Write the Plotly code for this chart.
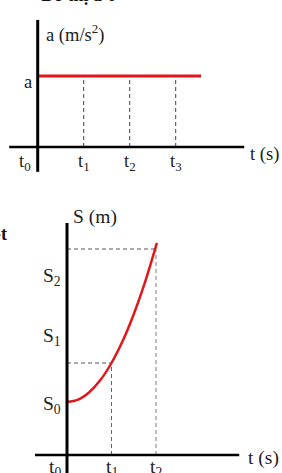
import plotly.graph_objects as go

# ---- data: a-t chart ----
at_ticks_t = [0, 1, 2, 3]
at_tick_labels = ["t<sub>0</sub>", "t<sub>1</sub>", "t<sub>2</sub>", "t<sub>3</sub>"]
a_value = 1.0
a_line_t = [0, 3.55]

# ---- data: S-t chart ----
st_ticks_t = [0, 1, 2]
st_tick_labels = ["t<sub>0</sub>", "t<sub>1</sub>", "t<sub>2</sub>"]
s_tick_vals = [5.0, 11.8, 17.8]
s_tick_labels = ["S<sub>0</sub>", "S<sub>1</sub>", "S<sub>2</sub>"]
curve_t = [0, 0.25, 0.5, 0.75, 1.0, 1.25, 1.5, 1.75, 2.02]
curve_s = [5.30, 5.54, 6.28, 7.49, 9.20, 11.39, 14.08, 17.24, 21.21]
s_at_t1 = 9.2
s_at_t2 = 20.6

RED = "#e3161b"
FONT = "Liberation Serif"
TXT = "#222222"

fig = go.Figure()

# top chart: a-t
fig.add_trace(go.Scatter(x=a_line_t, y=[a_value, a_value], mode="lines",
                         line=dict(color=RED, width=3), xaxis="x", yaxis="y",
                         hoverinfo="skip"))
for tv in at_ticks_t[1:]:
    fig.add_trace(go.Scatter(x=[tv, tv], y=[0, a_value], mode="lines",
                             line=dict(color="#444", width=1, dash="4px,3px"),
                             xaxis="x", yaxis="y", hoverinfo="skip"))

# bottom chart: S-t
fig.add_trace(go.Scatter(x=[0, st_ticks_t[1]], y=[s_at_t1, s_at_t1], mode="lines",
                         line=dict(color="#555", width=1, dash="4px,3px"),
                         xaxis="x2", yaxis="y2", hoverinfo="skip"))
fig.add_trace(go.Scatter(x=[st_ticks_t[1], st_ticks_t[1]], y=[0, s_at_t1], mode="lines",
                         line=dict(color="#666", width=1, dash="4px,3px"),
                         xaxis="x2", yaxis="y2", hoverinfo="skip"))
fig.add_trace(go.Scatter(x=[0, st_ticks_t[2]], y=[s_at_t2, s_at_t2], mode="lines",
                         line=dict(color="#555", width=1, dash="4px,3px"),
                         xaxis="x2", yaxis="y2", hoverinfo="skip"))
fig.add_trace(go.Scatter(x=[st_ticks_t[2], st_ticks_t[2]], y=[0, s_at_t2], mode="lines",
                         line=dict(color="#aaa", width=1.5, dash="4px,3px"),
                         xaxis="x2", yaxis="y2", hoverinfo="skip"))
fig.add_trace(go.Scatter(x=curve_t, y=curve_s, mode="lines", line_shape="spline",
                         line=dict(color=RED, width=2.5),
                         xaxis="x2", yaxis="y2", hoverinfo="skip"))

shapes = [
    # a-t axes
    dict(type="line", xref="x", yref="y", x0=-0.62, x1=4.49, y0=0, y1=0,
         line=dict(color="black", width=2.5)),
    dict(type="line", xref="x", yref="y", x0=0, x1=0, y0=-0.35, y1=1.79,
         line=dict(color="black", width=3)),
    # S-t axes
    dict(type="line", xref="x2", yref="y2", x0=-0.72, x1=3.87, y0=0, y1=0,
         line=dict(color="black", width=2.5)),
    dict(type="line", xref="x2", yref="y2", x0=0, x1=0, y0=-3, y1=23.2,
         line=dict(color="black", width=3)),
]

ann = []
fa = dict(family=FONT, size=18.5, color=TXT)
fb = dict(family=FONT, size=19.5, color=TXT)
# a-t labels
ann.append(dict(x=-0.08, y=0.915, xref="x", yref="y", text="a", xanchor="right",
                yanchor="middle", showarrow=False, font=fa))
ann.append(dict(x=0.14, y=1.6, xref="x", yref="y", text="a (m/s<sup>2</sup>)",
                xanchor="left", yanchor="middle", showarrow=False, font=fa))
ann.append(dict(x=4.57, y=-0.11, xref="x", yref="y", text="t (s)",
                xanchor="left", yanchor="middle", showarrow=False, font=fa))
for i, (tv, lab) in enumerate(zip(at_ticks_t, at_tick_labels)):
    xx = -0.28 if i == 0 else tv
    ann.append(dict(x=xx, y=-0.225, xref="x", yref="y", text=lab, xanchor="center",
                    yanchor="middle", showarrow=False, font=fa))
# S-t labels
ann.append(dict(x=0.09, y=23.8, xref="x2", yref="y2", text="S (m)",
                xanchor="left", yanchor="middle", showarrow=False, font=fb))
ann.append(dict(x=4.03, y=-0.3, xref="x2", yref="y2", text="t (s)",
                xanchor="left", yanchor="middle", showarrow=False, font=fb))
for sv, lab in zip(s_tick_vals, s_tick_labels):
    ann.append(dict(x=-0.337, y=sv, xref="x2", yref="y2", text=lab, xanchor="center",
                    yanchor="middle", showarrow=False, font=fb))
for i, (tv, lab) in enumerate(zip(st_ticks_t, st_tick_labels)):
    xx = -0.27 if i == 0 else tv
    ann.append(dict(x=xx, y=-1.3, xref="x2", yref="y2", text=lab, xanchor="center",
                    yanchor="middle", showarrow=False, font=fb))
# cut-off titles
ann.append(dict(x=77 / 282, y=1 + 5 / 473, xref="paper", yref="paper",
                text="<b>Đồ thị a-t</b>", xanchor="center", yanchor="middle",
                showarrow=False, font=dict(family=FONT, size=18, color="#111")))
ann.append(dict(x=9 / 282, y=1 - 234 / 473, xref="paper", yref="paper",
                text="<b>Đồ thị S-t</b>", xanchor="right", yanchor="middle",
                showarrow=False, font=dict(family=FONT, size=18, color="#111")))

ax_common = dict(visible=False, fixedrange=True)
split = (473 - 200) / 473
fig.update_layout(
    width=282, height=473,
    margin=dict(l=0, r=0, t=0, b=0, pad=0),
    paper_bgcolor="white", plot_bgcolor="white",
    showlegend=False,
    xaxis=dict(domain=[0, 1], range=[-37.7 / 46, (282 - 37.7) / 46], **ax_common),
    yaxis=dict(domain=[split, 1], range=[(147 - 200) / 71, 147 / 71], **ax_common),
    xaxis2=dict(domain=[0, 1], range=[-67 / 44.5, (282 - 67) / 44.5], anchor="y2", **ax_common),
    yaxis2=dict(domain=[0, split], range=[-1.8, 25.5], anchor="x2", **ax_common),
    shapes=shapes,
    annotations=ann,
)

fig.write_html("out.html", config={"displayModeBar": False})
